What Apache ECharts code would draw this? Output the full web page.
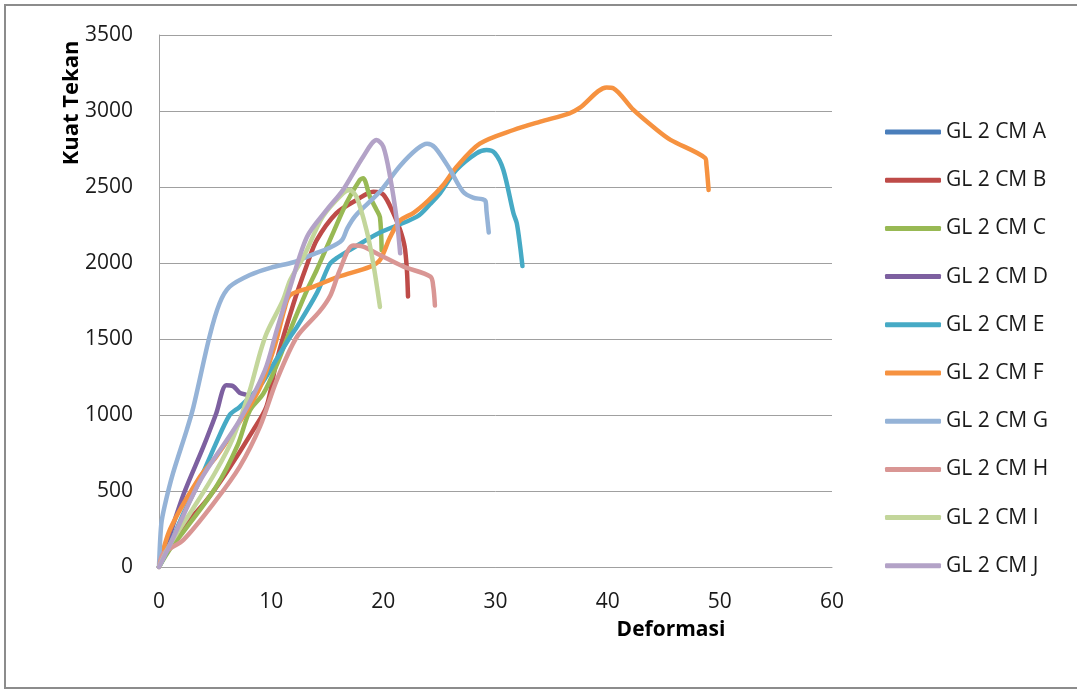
<!DOCTYPE html>
<html>
<head>
<meta charset="utf-8">
<script src="https://cdn.jsdelivr.net/npm/echarts@6/dist/echarts.min.js"></script>
<style>
html,body{margin:0;padding:0;background:#fff;}
#chart{width:1077px;height:690px;}
</style>
</head>
<body>
<div id="chart"></div>
<script>
// Series names (legend)
const seriesNames = ['GL 2 CM A','GL 2 CM B','GL 2 CM C','GL 2 CM D','GL 2 CM E','GL 2 CM F','GL 2 CM G','GL 2 CM H','GL 2 CM I','GL 2 CM J'];
const seriesColors = ['#4A7EBB','#BE4B48','#98B954','#7D60A0','#46AAC5','#F69240','#95B3D7','#D99694','#C3D69B','#B3A2C7'];

// [Deformasi, Kuat Tekan] pairs
const gl2cmA = [];
const gl2cmB = [[0,0],[0.4,90],[2,250],[4.25,440],[6,620],[8.4,900],[9.6,1060],[10.5,1360],[12,1735],[13.2,1990],[14.06,2151],[15.8,2327],[17.6,2414],[19.1,2469],[20.0,2450],[20.9,2327],[21.5,2217],[21.9,2107],[22.1,1954],[22.2,1780]];
const gl2cmC = [[0,0],[1,120],[2.1,224],[5.1,528],[7,800],[8.1,1030],[9.3,1140],[10.5,1330],[11.7,1559],[13.2,1822],[14.06,1954],[15.5,2195],[16.7,2393],[17.9,2546],[18.2,2557],[18.8,2436],[19.4,2349],[19.7,2300],[19.85,2085]];
const gl2cmD = [[0,0],[0.7,150],[2.2,480],[3.95,790],[5.1,1010],[6.0,1195],[6.6,1190],[7.2,1145],[7.7,1135]];
const gl2cmE = [[0,0],[1,150],[2.2,355],[3.65,572],[5,800],[6.3,1000],[7.2,1054],[9.0,1190],[10.5,1370],[11.7,1515],[12.3,1580],[14.06,1800],[15.2,1990],[15.8,2030],[17,2085],[19.7,2200],[23.0,2305],[24.2,2390],[25.05,2458],[26.5,2612],[28.3,2722],[29.2,2743],[29.95,2722],[30.7,2612],[31.6,2327],[31.9,2261],[32.2,2107],[32.4,1980]];
const gl2cmF = [[0,0],[1,250],[3.65,594],[5.1,726],[7.5,990],[9.0,1180],[10.3,1450],[11.2,1700],[11.7,1790],[13.8,1845],[16,1910],[18.8,1975],[19.7,2020],[20.6,2170],[21.5,2280],[22.7,2330],[24,2410],[25.3,2510],[26.5,2630],[28.6,2785],[31.6,2875],[34,2930],[36.6,2985],[37.5,3020],[39.9,3155],[40.5,3150],[42.3,3007],[44.4,2875],[45.6,2810],[48.7,2690],[48.8,2650],[49.0,2480]];
const gl2cmG = [[0,0],[0.2,280],[0.5,400],[1.25,617],[2.47,901],[3.06,1050],[4.5,1515],[5.4,1735],[6.3,1844],[8.1,1921],[10,1970],[12.0,2005],[13.5,2050],[15.2,2100],[16.3,2150],[16.8,2230],[17.5,2310],[19.7,2470],[21.5,2640],[23.0,2750],[23.9,2785],[24.6,2760],[25.9,2620],[27.1,2470],[28.0,2430],[28.8,2420],[29.1,2410],[29.2,2340],[29.4,2200]];
const gl2cmH = [[0,0],[0.4,90],[2.2,180],[5.1,441],[7.2,660],[9.0,923],[10.5,1230],[12.3,1515],[14.3,1680],[15.3,1790],[16.1,1950],[17.3,2115],[18.2,2107],[19.7,2052],[21.8,1976],[24.2,1910],[24.45,1844],[24.6,1720]];
const gl2cmI = [[0,0],[1,150],[3,380],[5,620],[6.6,850],[8.1,1164],[9.0,1406],[9.6,1539],[11.06,1757],[11.7,1888],[12.9,2041],[14.6,2305],[16.4,2458],[17.0,2480],[17.6,2436],[18.5,2217],[19.1,1998],[19.7,1711]];
const gl2cmJ = [[0,0],[1,150],[3.7,572],[7.2,967],[9.45,1296],[10.5,1559],[11.7,1844],[13.2,2173],[14.95,2349],[16.4,2480],[18.2,2699],[19.4,2809],[20.0,2765],[20.6,2568],[21.2,2283],[21.5,2064]];
const allData = [gl2cmA,gl2cmB,gl2cmC,gl2cmD,gl2cmE,gl2cmF,gl2cmG,gl2cmH,gl2cmI,gl2cmJ];

// Axis ticks
const xTicks = {min:0, max:60, interval:10};
const yTicks = {min:0, max:3500, interval:500};

const FONT = 'Open Sans';
const chart = echarts.init(document.getElementById('chart'), null, {renderer:'canvas'});
chart.setOption({
  animation:false,
  backgroundColor:'#fff',
  grid:{left:159, right:245, top:35, bottom:123, containLabel:false},
  xAxis:{type:'value', min:xTicks.min, max:xTicks.max, interval:xTicks.interval,
    axisLine:{show:true, lineStyle:{color:'#a0a0a0', width:1}},
    axisTick:{show:false}, splitLine:{show:false},
    axisLabel:{color:'#1a1a1a', fontSize:21, fontFamily:FONT, margin:25, formatter:(v)=>String(v)}},
  yAxis:{type:'value', min:yTicks.min, max:yTicks.max, interval:yTicks.interval,
    axisLine:{show:true, lineStyle:{color:'#a0a0a0', width:1}},
    axisTick:{show:false},
    splitLine:{show:true, lineStyle:{color:'#a0a0a0', width:1}},
    axisLabel:{color:'#1a1a1a', fontSize:21, fontFamily:FONT, margin:26, formatter:(v)=>String(v)}},
  legend:{orient:'vertical', left:885, top:120, padding:0, itemWidth:56, itemHeight:5, itemGap:24.2,
    icon:'roundRect',
    textStyle:{fontSize:21, fontFamily:FONT, color:'#1a1a1a', lineHeight:24},
    data:seriesNames},
  graphic:[
    {type:'rect', shape:{x:5, y:5, width:1100, height:683}, style:{fill:'none', stroke:'#8c8c8c', lineWidth:2}, silent:true},
    {type:'text', x:72, y:103, rotation:Math.PI/2, style:{text:'Kuat Tekan', font:'bold 22px "Open Sans"', fill:'#000', align:'center', verticalAlign:'middle'}},
    {type:'text', x:671, y:630, style:{text:'Deformasi', font:'bold 21px "Open Sans"', fill:'#000', align:'center', verticalAlign:'middle'}}
  ],
  series: seriesNames.map((n,i)=>({
    name:n, type:'line', data:allData[i], showSymbol:false, symbol:'none',
    smooth:0.3, color:seriesColors[i],
    lineStyle:{width:4.5, color:seriesColors[i], cap:'round', join:'round'},
    emphasis:{disabled:true}
  }))
});
</script>
</body>
</html>
